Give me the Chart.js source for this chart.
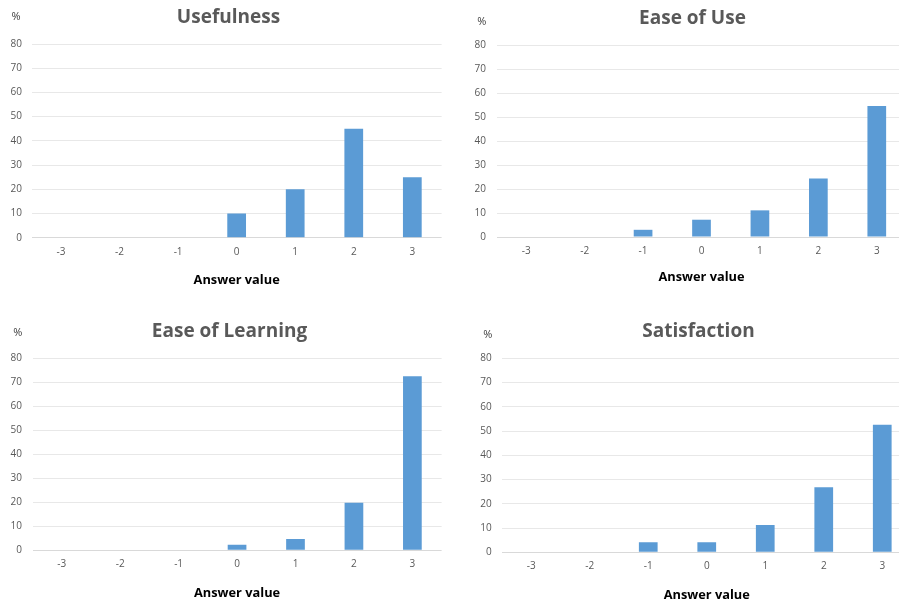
<!DOCTYPE html>
<html><head><meta charset="utf-8">
<script src="https://cdn.jsdelivr.net/npm/chart.js@4.4.1/dist/chart.umd.min.js"></script>
<style>
html,body{margin:0;padding:0;background:#fff;overflow:hidden}
#wrap{position:relative;width:899px;height:603px;overflow:hidden;background:#fff}
.p{position:absolute}
</style></head><body><div id="wrap"></div>
<script>
// ---- data ----
const categories = ['-3','-2','-1','0','1','2','3'];
const usefulness = [0, 0, 0, 10, 20, 45, 25];
const easeOfUse = [0, 0, 3, 7.2, 11.1, 24.4, 54.6];
const easeOfLearning = [0, 0, 0, 2.3, 4.7, 19.8, 72.5];
const satisfaction = [0, 0, 4.1, 4.1, 11.3, 26.8, 52.6];
const yTicks = [0, 10, 20, 30, 40, 50, 60, 70, 80];
const titles = ['Usefulness', 'Ease of Use', 'Ease of Learning', 'Satisfaction'];
const xTitle = 'Answer value';
const yUnit = '%';

// ---- layout / style per panel ----
const panels = [
  {data: usefulness,     L: 0,   T: 0,   W: 457, H: 300, yw: 31.7, y2w: 15.4, tpt: 6.1,  tpb: 15.1, xh: 62.3, xtp: 8,   xtpb: 11.7, ytp: 9.7,  px: -15.7, py: -27.3},
  {data: easeOfUse,      L: 460, T: 0,   W: 465, H: 300, yw: 37,   y2w: 19,   tpt: 7.2,  tpb: 15.0, xh: 63,   xtp: 7.7, xtpb: 14.6, ytp: 11,   px: -15.3, py: -23},
  {data: easeOfLearning, L: 0,   T: 300, W: 459, H: 303, yw: 32.5, y2w: 17.4, tpt: 20.6, tpb: 14.9, xh: 52.7, xtp: 8,   xtpb: 2.3,  ytp: 10.5, px: -14.7, py: -25},
  {data: satisfaction,   L: 465, T: 300, W: 467, H: 303, yw: 37,   y2w: 20.5, tpt: 20.6, tpb: 14.9, xh: 50.7, xtp: 7.4, xtpb: 0,    ytp: 10.4, px: -14.3, py: -23.3}
];

Chart.defaults.font.family = "'Open Sans', sans-serif";
Chart.defaults.animation = false;

const unitPlugin = {
  id: 'unitLabel',
  afterDraw(chart, args, opts) {
    const {ctx, chartArea} = chart;
    ctx.save();
    ctx.font = "11px 'Open Sans', sans-serif";
    ctx.fillStyle = '#404040';
    ctx.textAlign = 'center';
    ctx.textBaseline = 'middle';
    ctx.fillText(yUnit, chartArea.left + opts.dx, chartArea.top + opts.dy);
    ctx.restore();
  }
};

const wrap = document.getElementById('wrap');
panels.forEach((p, i) => {
  const div = document.createElement('div');
  div.className = 'p';
  div.style.left = p.L + 'px';
  div.style.top = p.T + 'px';
  div.style.width = p.W + 'px';
  div.style.height = p.H + 'px';
  const cv = document.createElement('canvas');
  div.appendChild(cv);
  wrap.appendChild(div);

  new Chart(cv, {
    type: 'bar',
    data: {
      labels: categories,
      datasets: [{
        data: p.data,
        backgroundColor: '#5B9BD5',
        borderWidth: 0,
        barPercentage: 0.32,
        categoryPercentage: 1
      }]
    },
    plugins: [unitPlugin],
    options: {
      responsive: true,
      maintainAspectRatio: false,
      layout: {padding: 0},
      plugins: {
        legend: {display: false},
        tooltip: {enabled: false},
        title: {
          display: true,
          text: titles[i],
          color: '#595959',
          font: {size: 19, weight: 'bold'},
          padding: {top: p.tpt, bottom: p.tpb}
        },
        unitLabel: {dx: p.px, dy: p.py}
      },
      scales: {
        x: {
          type: 'category',
          grid: {display: false, drawTicks: false},
          border: {display: false},
          ticks: {color: '#595959', font: {size: 10}, padding: p.xtp, maxRotation: 0},
          title: {
            display: true,
            text: xTitle,
            color: '#000000',
            font: {size: 12.8, weight: 'bold'},
            padding: {top: 0, bottom: p.xtpb}
          },
          afterFit: s => { s.height = p.xh; }
        },
        y: {
          min: 0,
          max: 80,
          afterBuildTicks: s => { s.ticks = yTicks.map(v => ({value: v})); },
          grid: {
            drawTicks: false,
            color: c => (c.tick && c.tick.value === 0) ? '#d9d9d9' : '#e8e8e8'
          },
          border: {display: false},
          ticks: {color: '#595959', font: {size: 10}, padding: p.ytp},
          afterFit: s => { s.width = p.yw; }
        },
        y2: {
          position: 'right',
          display: true,
          grid: {display: false, drawTicks: false},
          border: {display: false},
          ticks: {display: false},
          afterFit: s => { s.width = p.y2w; }
        }
      }
    }
  });
});
</script>
</body></html>
